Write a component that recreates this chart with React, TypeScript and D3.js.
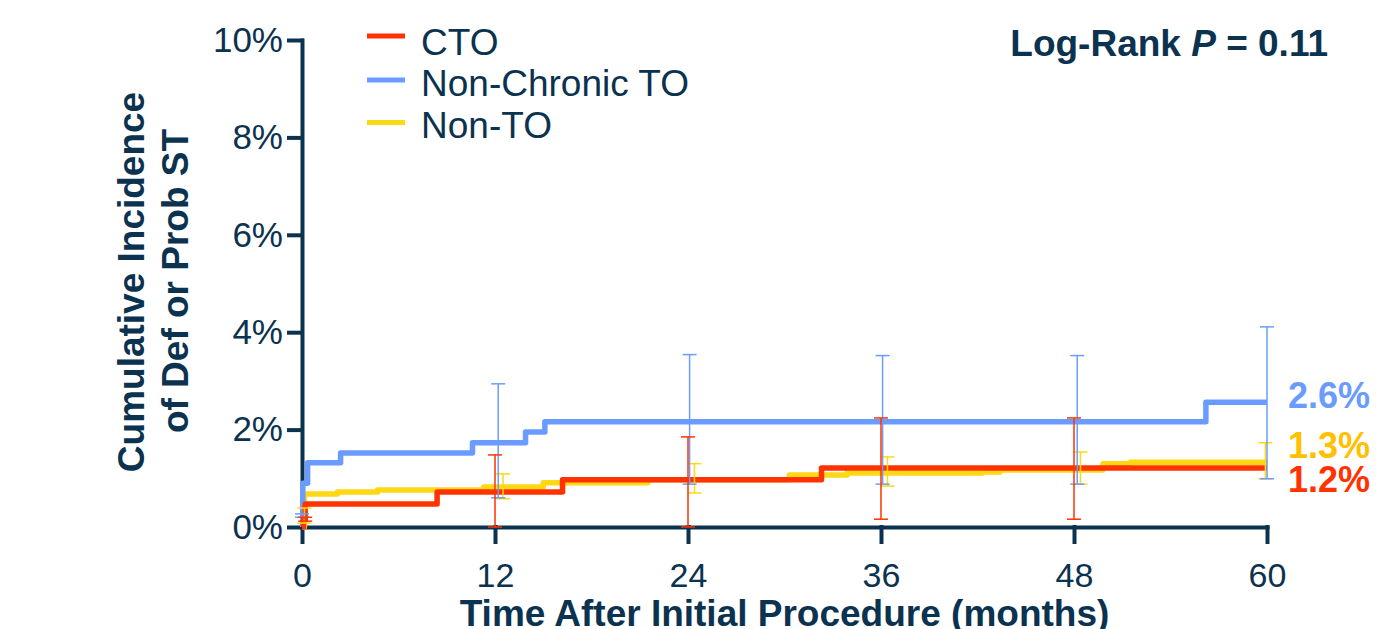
import React, { useEffect, useRef } from "react";
import * as d3 from "d3";

// axis ticks
const monthTicks = [0, 12, 24, 36, 48, 60];
const pctTicks = [0, 2, 4, 6, 8, 10];

// series names + end labels
const seriesNames = ["CTO", "Non-Chronic TO", "Non-TO"];
const endLabels = ["1.2%", "2.6%", "1.3%"];

// step curves (time in months, cumulative incidence %)
const ctoTimes = [0, 0.1, 0.2, 8.4, 16.2, 32.3, 60];
const ctoValues = [0, 0.15, 0.47, 0.72, 0.97, 1.21, 1.21];

const nonChronicTimes = [0, 0.05, 0.35, 2.4, 10.6, 13.9, 15.1, 56.2, 60];
const nonChronicValues = [0, 0.9, 1.32, 1.52, 1.73, 1.95, 2.16, 2.56, 2.56];

const nonToTimes = [0, 0.15, 2.2, 4.7, 11.3, 15.0, 21.5, 30.3, 33.9, 42.3, 43.4, 49.8, 51.5, 60];
const nonToValues = [0, 0.68, 0.72, 0.76, 0.82, 0.91, 0.97, 1.07, 1.11, 1.13, 1.17, 1.3, 1.33, 1.33];

// error bars (95% CI)
const ctoErrTimes = [0.2, 12, 24, 36, 48];
const ctoErrLow = [0.12, 0, 0, 0.16, 0.16];
const ctoErrHigh = [0.2, 1.48, 1.85, 2.24, 2.24];

const nonChronicErrTimes = [0, 12.2, 24.1, 36.1, 48.2, 60];
const nonChronicErrLow = [0.2, 0.6, 0.88, 0.88, 0.88, 0.99];
const nonChronicErrHigh = [0.27, 2.94, 3.54, 3.52, 3.52, 4.11];

const nonToErrTimes = [0.15, 12.5, 24.4, 36.4, 48.4, 59.9];
const nonToErrLow = [0.08, 0.58, 0.7, 0.84, 0.88, 0.99];
const nonToErrHigh = [0.39, 1.09, 1.3, 1.44, 1.54, 1.73];

const NAVY = "#0b324f";
const FONT = "'Liberation Sans', Arial, Helvetica, sans-serif";

const App = () => {
  const svgRef = useRef<SVGSVGElement | null>(null);

  useEffect(() => {
    const svg = d3.select(svgRef.current);
    svg.selectAll("*").remove();

    const x = d3.scaleLinear().domain([0, 60]).range([302, 1267]);
    const y = d3.scaleLinear().domain([0, 10]).range([527, 40]);

    const series = [
      { name: seriesNames[0], color: "#ff3300", label: "#ff3300", end: endLabels[0], times: ctoTimes, values: ctoValues, et: ctoErrTimes, lo: ctoErrLow, hi: ctoErrHigh },
      { name: seriesNames[1], color: "#6a9cff", label: "#6a9cff", end: endLabels[1], times: nonChronicTimes, values: nonChronicValues, et: nonChronicErrTimes, lo: nonChronicErrLow, hi: nonChronicErrHigh },
      { name: seriesNames[2], color: "#ffd814", label: "#ffc000", end: endLabels[2], times: nonToTimes, values: nonToValues, et: nonToErrTimes, lo: nonToErrLow, hi: nonToErrHigh },
    ];

    // y axis
    const yAxis = svg
      .append("g")
      .attr("transform", `translate(${x(0)},0)`)
      .call(
        d3.axisLeft(y).tickValues(pctTicks).tickSize(13).tickSizeOuter(0).tickPadding(6)
          .tickFormat((d) => `${d}%`)
      );
    yAxis.attr("font-family", FONT).attr("font-size", 35);
    yAxis.selectAll("path, line").attr("stroke", NAVY).attr("stroke-width", 4).attr("stroke-linecap", "square");
    yAxis.selectAll("text").attr("fill", NAVY);

    // x axis
    const xAxis = svg
      .append("g")
      .attr("transform", `translate(0,${y(0)})`)
      .call(d3.axisBottom(x).tickValues(monthTicks).tickSize(15).tickSizeOuter(0).tickPadding(21));
    xAxis.attr("font-family", FONT).attr("font-size", 34);
    xAxis.selectAll("path, line").attr("stroke", NAVY).attr("stroke-width", 4).attr("stroke-linecap", "square");
    xAxis.selectAll("text").attr("fill", NAVY);

    // step lines, yellow underneath, red on top
    const stepLine = d3.line<[number, number]>().curve(d3.curveStepAfter);
    [series[2], series[1], series[0]].forEach((s) => {
      const pts = s.times.map((t, i) => [x(t), y(s.values[i])] as [number, number]);
      svg
        .append("path")
        .attr("d", stepLine(pts))
        .attr("fill", "none")
        .attr("stroke", s.color)
        .attr("stroke-width", 5.5)
        .attr("stroke-linejoin", "round");
    });

    // error bars
    [series[2], series[1], series[0]].forEach((s) => {
      const g = svg.append("g").attr("stroke", s.color).attr("stroke-width", 1.5);
      s.et.forEach((t, i) => {
        const cx = x(t);
        g.append("line").attr("x1", cx).attr("x2", cx).attr("y1", y(s.lo[i])).attr("y2", y(s.hi[i]));
        [s.lo[i], s.hi[i]].forEach((v) => {
          g.append("line").attr("x1", cx - 7).attr("x2", cx + 7).attr("y1", y(v)).attr("y2", y(v));
        });
      });
    });

    // end labels
    const endY = [492, 408, 458];
    series.forEach((s, i) => {
      svg
        .append("text")
        .attr("x", 1288)
        .attr("y", endY[i])
        .attr("font-family", FONT)
        .attr("font-size", 36)
        .attr("font-weight", "bold")
        .attr("fill", s.label)
        .text(s.end);
    });

    // legend
    const legY = [36, 80, 122.5];
    const legBase = [55, 96, 138];
    series.forEach((s, i) => {
      svg.append("line").attr("x1", 367).attr("x2", 405).attr("y1", legY[i]).attr("y2", legY[i])
        .attr("stroke", s.color).attr("stroke-width", 5);
      svg.append("text").attr("x", 421).attr("y", legBase[i]).attr("font-family", FONT)
        .attr("font-size", 37).attr("fill", NAVY).text(s.name);
    });

    // log-rank
    const lr = svg.append("text").attr("x", 1328).attr("y", 56).attr("text-anchor", "end")
      .attr("font-family", FONT).attr("font-size", 37).attr("font-weight", "bold").attr("fill", NAVY);
    lr.append("tspan").text("Log-Rank ");
    lr.append("tspan").attr("font-style", "italic").text("P");
    lr.append("tspan").text(" = 0.11");

    // axis titles
    svg.append("text").attr("x", (x(0) + x(60)) / 2).attr("y", 626).attr("text-anchor", "middle")
      .attr("font-family", FONT).attr("font-size", 37).attr("font-weight", "bold").attr("fill", NAVY)
      .text("Time After Initial Procedure (months)");

    const yt = svg.append("text").attr("transform", "rotate(-90)").attr("text-anchor", "middle")
      .attr("font-family", FONT).attr("font-size", 37).attr("font-weight", "bold").attr("fill", NAVY);
    yt.append("tspan").attr("x", -282).attr("y", 144).text("Cumulative Incidence");
    yt.append("tspan").attr("x", -281).attr("y", 188).text("of Def or Prob ST");
  }, []);

  return (
    <svg
      ref={svgRef}
      width={1385}
      height={629}
      style={{ position: "absolute", left: 0, top: 0, background: "#fff" }}
    />
  );
};

export default App;
